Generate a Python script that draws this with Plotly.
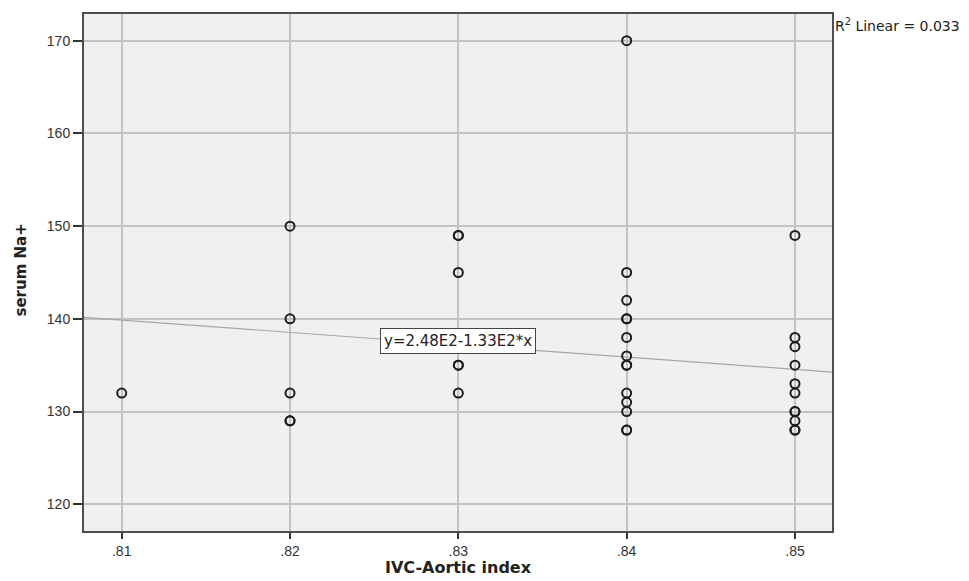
import plotly.graph_objects as go

# ---- data ----
ivc_index = [0.81,
             0.82, 0.82, 0.82, 0.82, 0.82,
             0.83, 0.83, 0.83, 0.83, 0.83, 0.83,
             0.84, 0.84, 0.84, 0.84, 0.84, 0.84, 0.84, 0.84, 0.84, 0.84, 0.84, 0.84, 0.84, 0.84,
             0.85, 0.85, 0.85, 0.85, 0.85, 0.85, 0.85, 0.85, 0.85, 0.85, 0.85]
serum_na = [132,
            150, 140, 132, 129, 129,
            149, 149, 145, 135, 135, 132,
            170, 145, 142, 140, 140, 138, 136, 135, 135, 132, 131, 130, 128, 128,
            149, 138, 137, 135, 133, 132, 130, 130, 129, 128, 128]

fit_intercept = 247.6
fit_slope = -133.0
r2_text = "R<sup>2</sup> Linear = 0.033"
eq_text = "y=2.48E2-1.33E2*x"

x_ticks = [0.81, 0.82, 0.83, 0.84, 0.85]
x_tick_labels = [".81", ".82", ".83", ".84", ".85"]
y_ticks = [120, 130, 140, 150, 160, 170]

x_range = [0.80776, 0.8522]
y_range = [117.12, 172.88]

fit_x = x_range
fit_y = [fit_intercept + fit_slope * v for v in fit_x]

fig = go.Figure()
fig.add_trace(go.Scatter(
    x=fit_x, y=fit_y, mode="lines",
    line=dict(color="#a8a8a8", width=1.2),
    hoverinfo="skip", showlegend=False))
fig.add_trace(go.Scatter(
    x=ivc_index, y=serum_na, mode="markers",
    marker=dict(symbol="circle-open", size=9, color="#1e1e1e",
                line=dict(width=2, color="#1e1e1e")),
    showlegend=False))

fig.update_layout(
    width=969, height=581,
    margin=dict(l=84, r=137, t=14, b=50),
    paper_bgcolor="white",
    plot_bgcolor="#f0f0f0",
    font=dict(family="Liberation Sans, Arial, sans-serif", color="#333333", size=14),
)
fig.update_xaxes(
    range=x_range, tickvals=x_ticks, ticktext=x_tick_labels,
    showgrid=True, gridcolor="#c2c2c2", gridwidth=1.6,
    zeroline=False, showline=True, mirror=True, linewidth=2, linecolor="#4d4d4d",
    ticks="outside", ticklen=6, tickwidth=2, tickcolor="#333333",
    tickfont=dict(size=14, color="#333333"))
fig.update_yaxes(
    range=y_range, tickvals=y_ticks,
    showgrid=True, gridcolor="#c2c2c2", gridwidth=1.6,
    zeroline=False, showline=True, mirror=True, linewidth=2, linecolor="#4d4d4d",
    ticks="outside", ticklen=9, tickwidth=2, tickcolor="#333333",
    tickfont=dict(size=14, color="#333333"))

fig.add_annotation(
    x=0.83, y=137.6, xref="x", yref="y", text=eq_text, showarrow=False,
    font=dict(family="DejaVu Sans, sans-serif", size=15, color="#222222"),
    bgcolor="white", bordercolor="#444444", borderwidth=1, borderpad=3)

fig.add_annotation(
    x=1, y=1, xref="paper", yref="paper", xanchor="left", yanchor="middle",
    xshift=1, yshift=-11, text=r2_text, showarrow=False,
    font=dict(family="DejaVu Sans, sans-serif", size=14, color="#222222"))

fig.add_annotation(
    x=0.5, y=0, xref="paper", yref="paper", xanchor="center", yanchor="middle",
    yshift=-36, text="<b>IVC-Aortic index</b>", showarrow=False,
    font=dict(family="DejaVu Sans, sans-serif", size=16, color="#222222"))

fig.add_annotation(
    x=0, y=0.5, xref="paper", yref="paper", xanchor="center", yanchor="middle",
    xshift=-64, yshift=2, text="<b>serum Na+</b>", textangle=-90, showarrow=False,
    font=dict(family="DejaVu Sans, sans-serif", size=15, color="#222222"))

fig.write_html("out.html")
